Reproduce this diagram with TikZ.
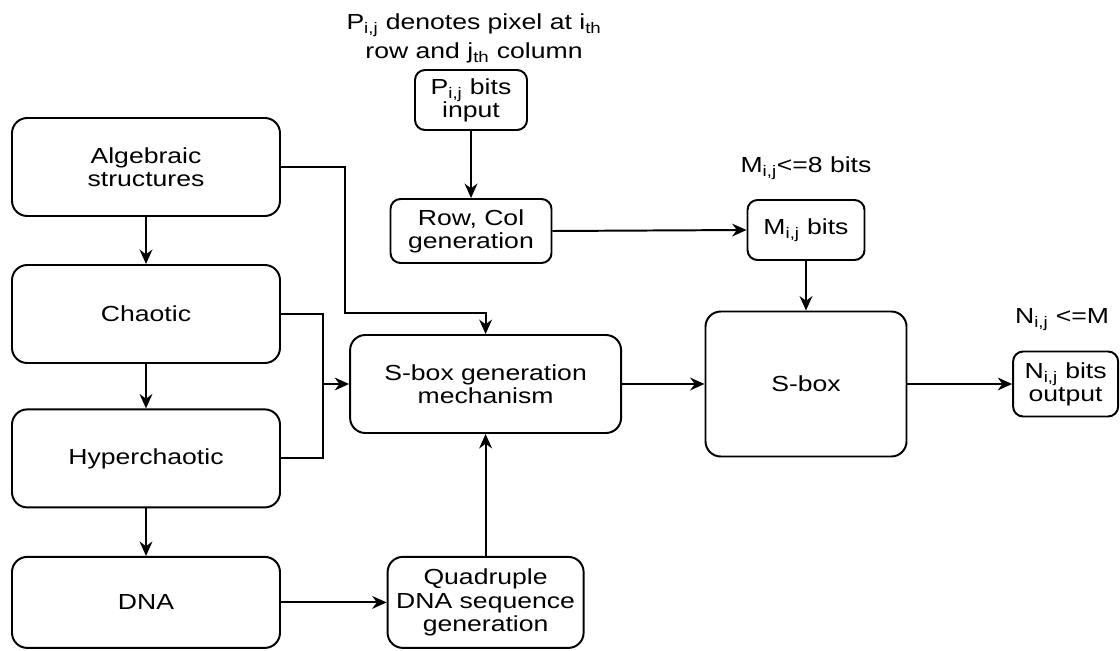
\documentclass[tikz,border=0pt]{standalone}
\usepackage{fontspec}
\setmainfont{Liberation Sans}[FakeStretch=1.22]
\usetikzlibrary{shapes,arrows.meta,positioning,calc}

\begin{document}
\begin{tikzpicture}[
    block/.style={rectangle, draw=black, line width=1.4pt, minimum width=6.7cm, minimum height=2.45cm, align=center, rounded corners=0.38cm, font=\fontsize{15.5}{16.5}\selectfont},
    small/.style={block, minimum width=2.8cm, minimum height=1.5cm, rounded corners=0.25cm},
    note/.style={align=center, font=\fontsize{15.5}{16.5}\selectfont},
    arrow/.style={-{Stealth[length=0.36cm, width=0.32cm]}, line width=1.4pt},
    link/.style={line width=1.4pt}
]
\useasboundingbox (0,0) rectangle (28,-16.25);

% left column
\node[block] (alg) at (3.65,-4.175) {Algebraic\\structures};
\node[block] (chaotic) at (3.65,-7.85) {Chaotic};
\node[block] (hyper) at (3.65,-11.46) {Hyperchaotic};
\node[block, minimum height=2.275cm] (dna) at (3.65,-15.06) {DNA};

% middle column
\node[note] (pnote) at (11.85,-0.95) {P\textsubscript{i,j} denotes pixel at i\textsubscript{th}\\[4pt] row and j\textsubscript{th} column};
\node[small] (pin) at (11.775,-2.5) {P\textsubscript{i,j} bits\\input};
\node[small, minimum width=4.025cm, minimum height=1.6cm] (rowcol) at (11.775,-5.775) {Row, Col\\generation};
\node[block, minimum width=6.775cm] (sgen) at (12.14,-9.6) {S-box generation\\mechanism};
\node[block, minimum width=4.9cm, minimum height=2.275cm, inner xsep=2pt] (quad) at (12.14,-15.06) {Quadruple\\DNA sequence\\generation};

% right part
\node[note] (mnote) at (20.15,-4.2) {M\textsubscript{i,j}<=8 bits};
\node[small, minimum width=2.925cm] (mbits) at (20.15,-5.75) {M\textsubscript{i,j} bits};
\node[block, minimum width=5.025cm, minimum height=3.625cm] (sbox) at (20.15,-9.6) {S-box};
\node[note] (nnote) at (26.55,-8.0) {N\textsubscript{i,j} <=M};
\node[small, minimum width=2.625cm, minimum height=1.625cm, inner xsep=2pt] (nbits) at (26.64,-9.6) {N\textsubscript{i,j} bits\\output};

\coordinate (algturn) at (8.625,-7.825);
\coordinate (merge) at (8.075,-9.6);

\draw[arrow] (alg) -- (chaotic);
\draw[arrow] (chaotic) -- (hyper);
\draw[arrow] (hyper) -- (dna);
\draw[arrow] (alg.east) -| (algturn) -| (sgen.north);
\draw[link] (chaotic.east) -| (merge);
\draw[link] (hyper.east) -| (merge);
\draw[arrow] (merge) -- (sgen.west);
\draw[arrow] (dna) -- (quad);
\draw[arrow] (quad) -- (sgen);
\draw[arrow] (pin) -- (rowcol);
\draw[arrow] (rowcol.east) -- (mbits.west);
\draw[arrow] (mbits) -- (sbox);
\draw[arrow] (sgen) -- (sbox);
\draw[arrow] (sbox) -- (nbits);

\end{tikzpicture}
\end{document}
